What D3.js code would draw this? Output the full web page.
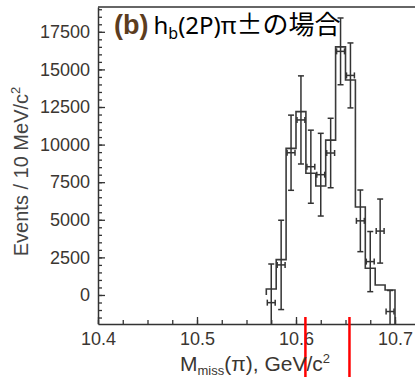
<!doctype html>
<html>
<head>
  <meta charset="utf-8">
  <title>hb(2P) missing mass</title>
  <script src="https://d3js.org/d3.v7.min.js"></script>
  <style>
    body { margin: 0; background: #fff; }
    text { font-family: "Liberation Sans", Arial, sans-serif; }
  </style>
</head>
<body>
  <div id="chart"></div>
  <script>
    // bin centres (GeV/c^2), 10 MeV bins
    var binCentres = [10.575, 10.585, 10.595, 10.605, 10.615, 10.625, 10.635, 10.645, 10.655, 10.665, 10.675, 10.685, 10.695];
    // data points and their errors
    var counts = [-510, 2000, 9460, 11640, 8530, 8000, 9440, 16200, 14600, 4930, 2220, 4250, -1100];
    var errors = [2570, 2970, 2500, 2930, 2430, 2750, 2310, 2220, 2160, 2050, 2000, 2130, 1400];
    // fit histogram
    var fitValues = [400, 2350, 9750, 12190, 8090, 7250, 10300, 16500, 14300, 5850, 1780, 665, 330];
    var binWidth = 0.01;
    // tick labels
    var xTicks = [10.4, 10.5, 10.6, 10.7];
    var yTicks = [0, 2500, 5000, 7500, 10000, 12500, 15000, 17500];
    // red marker lines (Zb masses)
    var markers = [10.6095, 10.654];

    var W = 415, H = 377;
    var plotLeft = 98, plotTop = 7, plotBottom = 324;

    var svg = d3.select("#chart").append("svg")
      .attr("width", W)
      .attr("height", H);

    var x = d3.scaleLinear().domain([10.4, 10.73]).range([plotLeft, plotLeft + 0.33 * 990]);
    var y = d3.scaleLinear().domain([-1930, 19150]).range([plotBottom, plotTop]);

    var axisColor = "#333";
    var labelColor = "#3b3631";

    svg.append("defs").append("clipPath")
      .attr("id", "plotclip")
      .append("rect")
      .attr("x", plotLeft)
      .attr("y", plotTop)
      .attr("width", W - plotLeft)
      .attr("height", plotBottom - plotTop);

    // minor ticks
    var xMinor = d3.range(10.4, 10.73, 0.025);
    var yMinor = d3.range(-1500, 19100, 500);

    svg.append("g")
      .attr("transform", "translate(0," + plotBottom + ")")
      .call(d3.axisBottom(x).tickValues(xMinor).tickSize(-4).tickFormat(""))
      .call(function (g) { g.select(".domain").remove(); })
      .selectAll("line").attr("stroke", axisColor).attr("stroke-width", 1.3);

    svg.append("g")
      .attr("transform", "translate(" + plotLeft + ",0)")
      .call(d3.axisLeft(y).tickValues(yMinor).tickSize(-4).tickFormat(""))
      .call(function (g) { g.select(".domain").remove(); })
      .selectAll("line").attr("stroke", axisColor).attr("stroke-width", 1.3);

    // major axes
    var gx = svg.append("g")
      .attr("transform", "translate(0," + plotBottom + ")")
      .call(d3.axisBottom(x).tickValues(xTicks).tickSize(-7).tickSizeOuter(0).tickPadding(8).tickFormat(d3.format(".1f")));
    var gy = svg.append("g")
      .attr("transform", "translate(" + plotLeft + ",0)")
      .call(d3.axisLeft(y).tickValues(yTicks).tickSize(-7).tickSizeOuter(0).tickPadding(8).tickFormat(d3.format("d")));

    [gx, gy].forEach(function (g) {
      g.select(".domain").attr("stroke", axisColor).attr("stroke-width", 1.5);
      g.selectAll("line").attr("stroke", axisColor).attr("stroke-width", 1.3);
      g.selectAll("text")
        .attr("fill", labelColor)
        .style("font-size", "18px")
        .style("font-family", "'Liberation Sans', Arial, sans-serif");
    });

    // top frame line
    svg.append("line")
      .attr("x1", plotLeft).attr("x2", W)
      .attr("y1", plotTop).attr("y2", plotTop)
      .attr("stroke", axisColor)
      .attr("stroke-width", 1.5);

    var plot = svg.append("g").attr("clip-path", "url(#plotclip)");

    // fit histogram as a step line
    var steps = [[binCentres[0] - binWidth / 2, 0]];
    binCentres.forEach(function (c, i) {
      steps.push([c - binWidth / 2, fitValues[i]]);
      steps.push([c + binWidth / 2, fitValues[i]]);
    });
    steps.push([binCentres[binCentres.length - 1] + binWidth / 2, y.domain()[0]]);

    plot.append("path")
      .datum(steps)
      .attr("fill", "none")
      .attr("stroke", "#3a3a3a")
      .attr("stroke-width", 1.6)
      .attr("d", d3.line()
        .x(function (d) { return x(d[0]); })
        .y(function (d) { return y(d[1]); }));

    // data points with error bars
    var pts = binCentres.map(function (c, i) { return { m: c, v: counts[i], e: errors[i] }; });
    var pg = plot.selectAll(".pt").data(pts).enter().append("g")
      .attr("class", "pt")
      .attr("stroke", "#333")
      .attr("stroke-width", 1.5)
      .attr("fill", "none");

    // vertical error
    pg.append("line")
      .attr("x1", function (d) { return x(d.m); })
      .attr("x2", function (d) { return x(d.m); })
      .attr("y1", function (d) { return y(d.v - d.e); })
      .attr("y2", function (d) { return y(d.v + d.e); });
    // caps
    [-1, 1].forEach(function (s) {
      pg.append("line")
        .attr("x1", function (d) { return x(d.m) - 3; })
        .attr("x2", function (d) { return x(d.m) + 3; })
        .attr("y1", function (d) { return y(d.v + s * d.e); })
        .attr("y2", function (d) { return y(d.v + s * d.e); });
    });
    // horizontal error (bin width)
    pg.append("line")
      .attr("x1", function (d) { return x(d.m - binWidth / 2) + 1; })
      .attr("x2", function (d) { return x(d.m + binWidth / 2) - 1; })
      .attr("y1", function (d) { return y(d.v); })
      .attr("y2", function (d) { return y(d.v); });
    [-1, 1].forEach(function (s) {
      pg.append("line")
        .attr("x1", function (d) { return x(d.m + s * binWidth / 2) - s; })
        .attr("x2", function (d) { return x(d.m + s * binWidth / 2) - s; })
        .attr("y1", function (d) { return y(d.v) - 3; })
        .attr("y2", function (d) { return y(d.v) + 3; });
    });

    // red markers
    svg.selectAll(".marker").data(markers).enter().append("line")
      .attr("class", "marker")
      .attr("x1", function (d) { return x(d); })
      .attr("x2", function (d) { return x(d); })
      .attr("y1", 317)
      .attr("y2", H)
      .attr("stroke", "#ff0000")
      .attr("stroke-width", 2.5);

    // y axis label
    var yl = svg.append("text")
      .attr("transform", "translate(28," + ((plotTop + plotBottom) / 2 + 6) + ") rotate(-90)")
      .attr("text-anchor", "middle")
      .attr("fill", "#444")
      .style("font-size", "20px");
    yl.append("tspan").text("Events / 10 MeV/c");
    yl.append("tspan").attr("dy", -8).style("font-size", "13px").text("2");

    // x axis label
    var xl = svg.append("text")
      .attr("x", 255)
      .attr("y", 371)
      .attr("text-anchor", "middle")
      .attr("fill", labelColor)
      .style("font-size", "21px");
    xl.append("tspan").text("M");
    xl.append("tspan").attr("dy", 4).style("font-size", "13px").text("miss");
    xl.append("tspan").attr("dy", -4).text("(\u03c0), GeV/c");
    xl.append("tspan").attr("dy", -8).style("font-size", "13px").text("2");

    // panel title
    var t = svg.append("text")
      .attr("x", 114)
      .attr("y", 34);
    t.append("tspan")
      .attr("fill", "#5c3d1e")
      .style("font-weight", "bold")
      .style("font-size", "27px")
      .text("(b)");
    t.append("tspan")
      .attr("dx", 5)
      .attr("fill", "#000")
      .style("font-family", "'Noto Sans', sans-serif")
      .style("font-size", "24px")
      .text("h");
    t.append("tspan")
      .attr("dy", 5)
      .attr("fill", "#000")
      .style("font-family", "'Noto Sans', sans-serif")
      .style("font-size", "16px")
      .text("b");
    t.append("tspan")
      .attr("dy", -5)
      .attr("fill", "#000")
      .style("font-family", "'Noto Sans', sans-serif")
      .style("font-size", "24px")
      .text("(2P)\u03c0");
    t.append("tspan")
      .attr("fill", "#000")
      .style("font-family", "'Noto Sans CJK JP', sans-serif")
      .style("font-size", "26px")
      .text("\u00b1の場合");
  </script>
</body>
</html>
